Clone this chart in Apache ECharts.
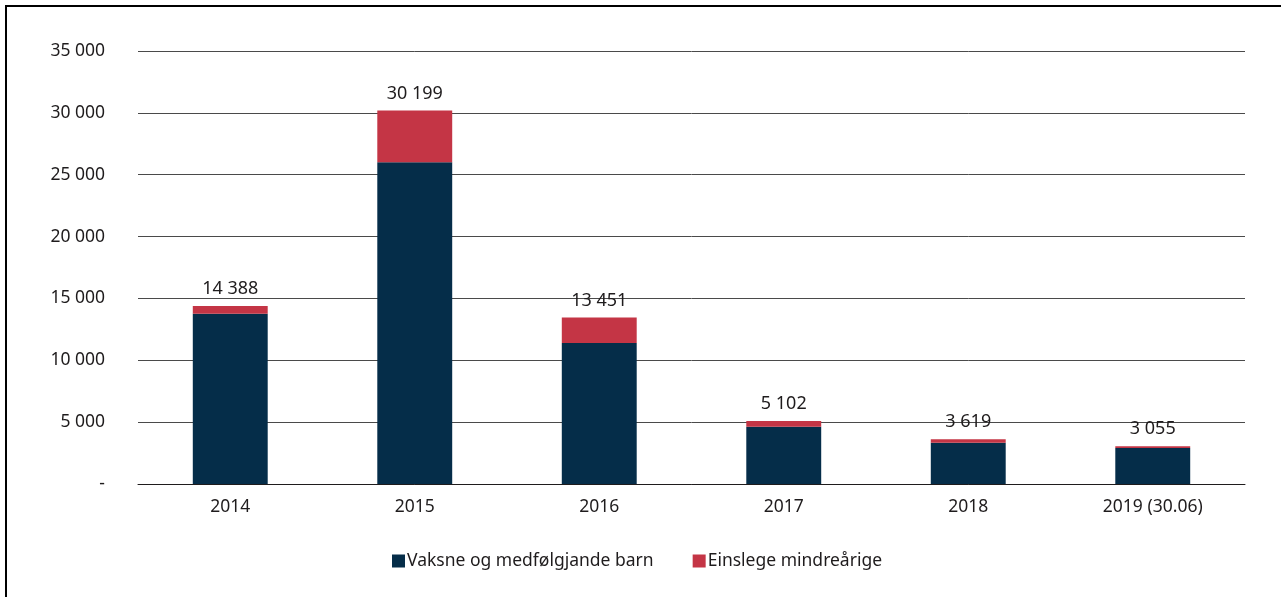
<!DOCTYPE html>
<html>
<head>
<meta charset="utf-8">
<script src="https://cdn.jsdelivr.net/npm/echarts@6/dist/echarts.min.js"></script>
<style>
  html, body { margin: 0; padding: 0; background: #fff; }
  #chart { width: 1281px; height: 597px; }
</style>
</head>
<body>
<div id="chart"></div>
<script>
// Years shown on the category axis
const years = ['2014', '2015', '2016', '2017', '2018', '2019 (30.06)'];
// Adults and accompanied children
const vaksne = [13765, 26002, 11397, 4631, 3338, 2910];
// Unaccompanied minors
const einslege = [623, 4197, 2054, 471, 281, 145];
// Value axis ticks
const yTicks = [0, 5000, 10000, 15000, 20000, 25000, 30000, 35000];

const FONT = '"Noto Sans", "Open Sans", sans-serif';
const INK = '#1f1c1d';

function fmt(v) {
  if (v === 0) return '-';
  return String(v).replace(/\B(?=(\d{3})+(?!\d))/g, ' ');
}

const chart = echarts.init(document.getElementById('chart'), null, { renderer: 'canvas' });

chart.setOption({
  backgroundColor: '#ffffff',
  animation: false,
  textStyle: { fontFamily: FONT },
  graphic: [
    { type: 'rect', shape: { x: 5, y: 5, width: 2, height: 597 }, style: { fill: '#000' } },
    { type: 'rect', shape: { x: 5, y: 5, width: 1281, height: 2 }, style: { fill: '#000' } }
  ],
  legend: {
    left: 392,
    top: 552,
    padding: 0,
    itemWidth: 13,
    itemHeight: 13,
    itemGap: 39,
    icon: 'rect',
    textStyle: { fontFamily: FONT, fontSize: 17.5, color: INK, padding: [0, 0, 0, -3] },
    data: ['Vaksne og medfølgjande barn', 'Einslege mindreårige']
  },
  grid: { left: 138, right: 36, top: 51, bottom: 113, containLabel: false },
  xAxis: {
    type: 'category',
    data: years,
    axisLine: { show: true, lineStyle: { color: INK, width: 1 } },
    axisTick: { show: false },
    axisLabel: { fontFamily: FONT, fontSize: 17.5, color: INK, margin: 14 }
  },
  yAxis: {
    type: 'value',
    min: yTicks[0],
    max: yTicks[yTicks.length - 1],
    interval: yTicks[1] - yTicks[0],
    axisLine: { show: false },
    axisTick: { show: false },
    splitLine: { lineStyle: { color: '#4a4a4a', width: 1 } },
    axisLabel: { fontFamily: FONT, fontSize: 17.5, color: INK, margin: 33, formatter: fmt }
  },
  series: [
    {
      name: 'Vaksne og medfølgjande barn',
      type: 'bar',
      stack: 'total',
      barWidth: '40.6%',
      itemStyle: { color: '#052d49' },
      data: vaksne
    },
    {
      name: 'Einslege mindreårige',
      type: 'bar',
      stack: 'total',
      itemStyle: { color: '#c43545' },
      label: {
        show: true,
        position: 'top',
        distance: 8,
        fontFamily: FONT,
        fontSize: 18,
        color: INK,
        formatter: p => fmt(vaksne[p.dataIndex] + einslege[p.dataIndex])
      },
      data: einslege
    }
  ]
});
</script>
</body>
</html>
